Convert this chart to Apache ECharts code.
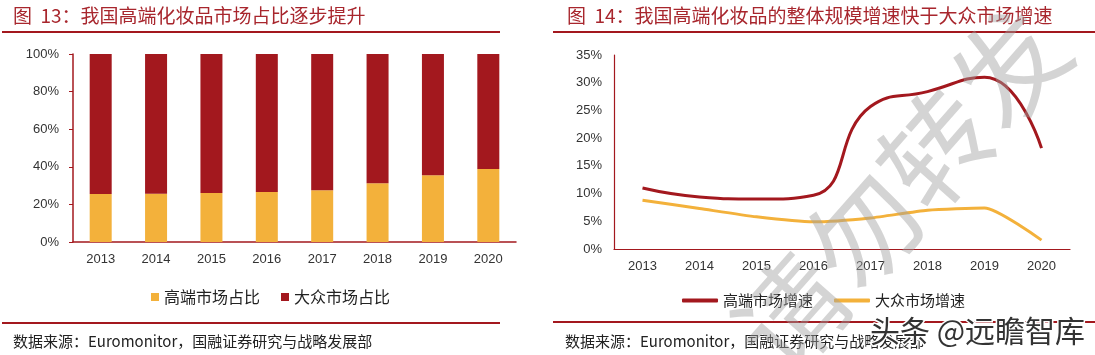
<!DOCTYPE html>
<html><head><meta charset="utf-8">
<script src="https://cdn.jsdelivr.net/npm/echarts@6/dist/echarts.min.js"></script>
<style>html,body{margin:0;padding:0;background:#fff}#c{width:1095px;height:355px}</style>
</head><body><div id="c"></div>
<script>
const years = ['2013','2014','2015','2016','2017','2018','2019','2020'];
const premiumShare = [25.5,25.6,26.1,26.6,27.5,31.2,35.5,38.8];
const massShare = [74.5,74.4,73.9,73.4,72.5,68.8,64.5,61.2];
const premiumGrowth = [11.0,9.4,9.0,9.7,25.7,28.4,31.0,18.2];
const massGrowth = [8.8,7.3,5.8,4.9,5.6,7.0,7.4,1.6];
const shareTicks = [0,20,40,60,80,100];
const growthTicks = [0,5,10,15,20,25,30,35];

const RED = '#a3181e', ORANGE = '#f3b13b', TITLE = '#a8262d';
const CJK = '"Noto Sans CJK SC", sans-serif';
const LAT = '"Liberation Sans", Arial, sans-serif';

const chart = echarts.init(document.getElementById('c'), null, {renderer:'canvas'});
chart.setOption({
  animation:false,
  textStyle:{fontFamily:LAT},
  title:[
    {text:'图  13：我国高端化妆品市场占比逐步提升', left:8, top:1, textStyle:{fontFamily:CJK, fontSize:19, fontWeight:'normal', color:TITLE}},
    {text:'图  14：我国高端化妆品的整体规模增速快于大众市场增速', left:562, top:1, textStyle:{fontFamily:CJK, fontSize:19, fontWeight:'normal', color:TITLE}},
    {text:'数据来源：Euromonitor，国融证券研究与战略发展部', left:8, top:329, textStyle:{fontFamily:CJK, fontSize:15, fontWeight:'normal', color:'#222'}},
    {text:'数据来源：Euromonitor，国融证券研究与战略发展部', left:560, top:329, textStyle:{fontFamily:CJK, fontSize:15, fontWeight:'normal', color:'#222'}}
  ],
  grid:[
    {left:73, top:54, width:443, height:188},
    {left:614, top:55, width:456, height:194}
  ],
  legend:[
    {data:['高端市场占比','大众市场占比'], left:146, top:284, icon:'rect', itemWidth:8, itemHeight:8, itemGap:21, textStyle:{fontFamily:CJK, fontSize:16, color:'#222'}},
    {data:['高端市场增速','大众市场增速'], left:677, top:288, icon:'roundRect', itemWidth:36, itemHeight:4, itemGap:21, textStyle:{fontFamily:CJK, fontSize:15, color:'#222'}}
  ],
  xAxis:[
    {type:'category', gridIndex:0, data:years, boundaryGap:true,
     axisLine:{lineStyle:{color:RED, width:1.5}}, axisTick:{show:false},
     axisLabel:{fontSize:13, color:'#333', margin:11}},
    {type:'category', gridIndex:1, data:years, boundaryGap:true,
     axisLine:{lineStyle:{color:RED, width:1.2}}, axisTick:{show:false},
     axisLabel:{fontSize:13, color:'#333', margin:11}}
  ],
  yAxis:[
    {type:'value', gridIndex:0, min:shareTicks[0], max:shareTicks[shareTicks.length-1], interval:20,
     axisLine:{show:true, lineStyle:{color:RED, width:1.5}}, axisTick:{show:true, length:4, lineStyle:{color:RED}},
     splitLine:{show:false}, axisLabel:{fontSize:13, color:'#333', margin:14, formatter:'{value}%'}},
    {type:'value', gridIndex:1, min:growthTicks[0], max:growthTicks[growthTicks.length-1], interval:5,
     axisLine:{show:true, lineStyle:{color:RED, width:1.2}}, axisTick:{show:false},
     splitLine:{show:false}, axisLabel:{fontSize:13, color:'#333', margin:12, formatter:'{value}%'}}
  ],
  series:[
    {name:'高端市场占比', type:'bar', stack:'s', xAxisIndex:0, yAxisIndex:0, data:premiumShare, barWidth:22, itemStyle:{color:ORANGE}},
    {name:'大众市场占比', type:'bar', stack:'s', xAxisIndex:0, yAxisIndex:0, data:massShare, barWidth:22, itemStyle:{color:RED}},
    {name:'高端市场增速', type:'line', xAxisIndex:1, yAxisIndex:1, data:premiumGrowth, smooth:0.5, symbol:'none', lineStyle:{color:RED, width:3}, itemStyle:{color:RED}},
    {name:'大众市场增速', type:'line', xAxisIndex:1, yAxisIndex:1, data:massGrowth, smooth:0.2, symbol:'none', lineStyle:{color:ORANGE, width:3}, itemStyle:{color:ORANGE}}
  ],
  graphic:[
    {type:'rect', shape:{x:2, y:31, width:498, height:2}, style:{fill:RED}, silent:true},
    {type:'rect', shape:{x:553, y:31, width:542, height:2}, style:{fill:RED}, silent:true},
    {type:'rect', shape:{x:2, y:322, width:498, height:2}, style:{fill:RED}, silent:true},
    {type:'rect', shape:{x:553, y:321, width:542, height:2}, style:{fill:RED}, silent:true},
    {type:'text', x:900, y:190, rotation:Math.PI*0.27, z:50, silent:true,
     style:{text:'请勿转发', font:'110px "Noto Sans CJK SC"', fill:'rgba(160,160,160,0.45)', textAlign:'center', textVerticalAlign:'middle'}},
    {type:'text', x:870, y:331, z:60, silent:true,
     style:{text:'头条 @远瞻智库', font:'30px "Noto Sans CJK SC"', fill:'#333', stroke:'#fff', lineWidth:3, textVerticalAlign:'middle'}}
  ]
});
</script></body></html>
